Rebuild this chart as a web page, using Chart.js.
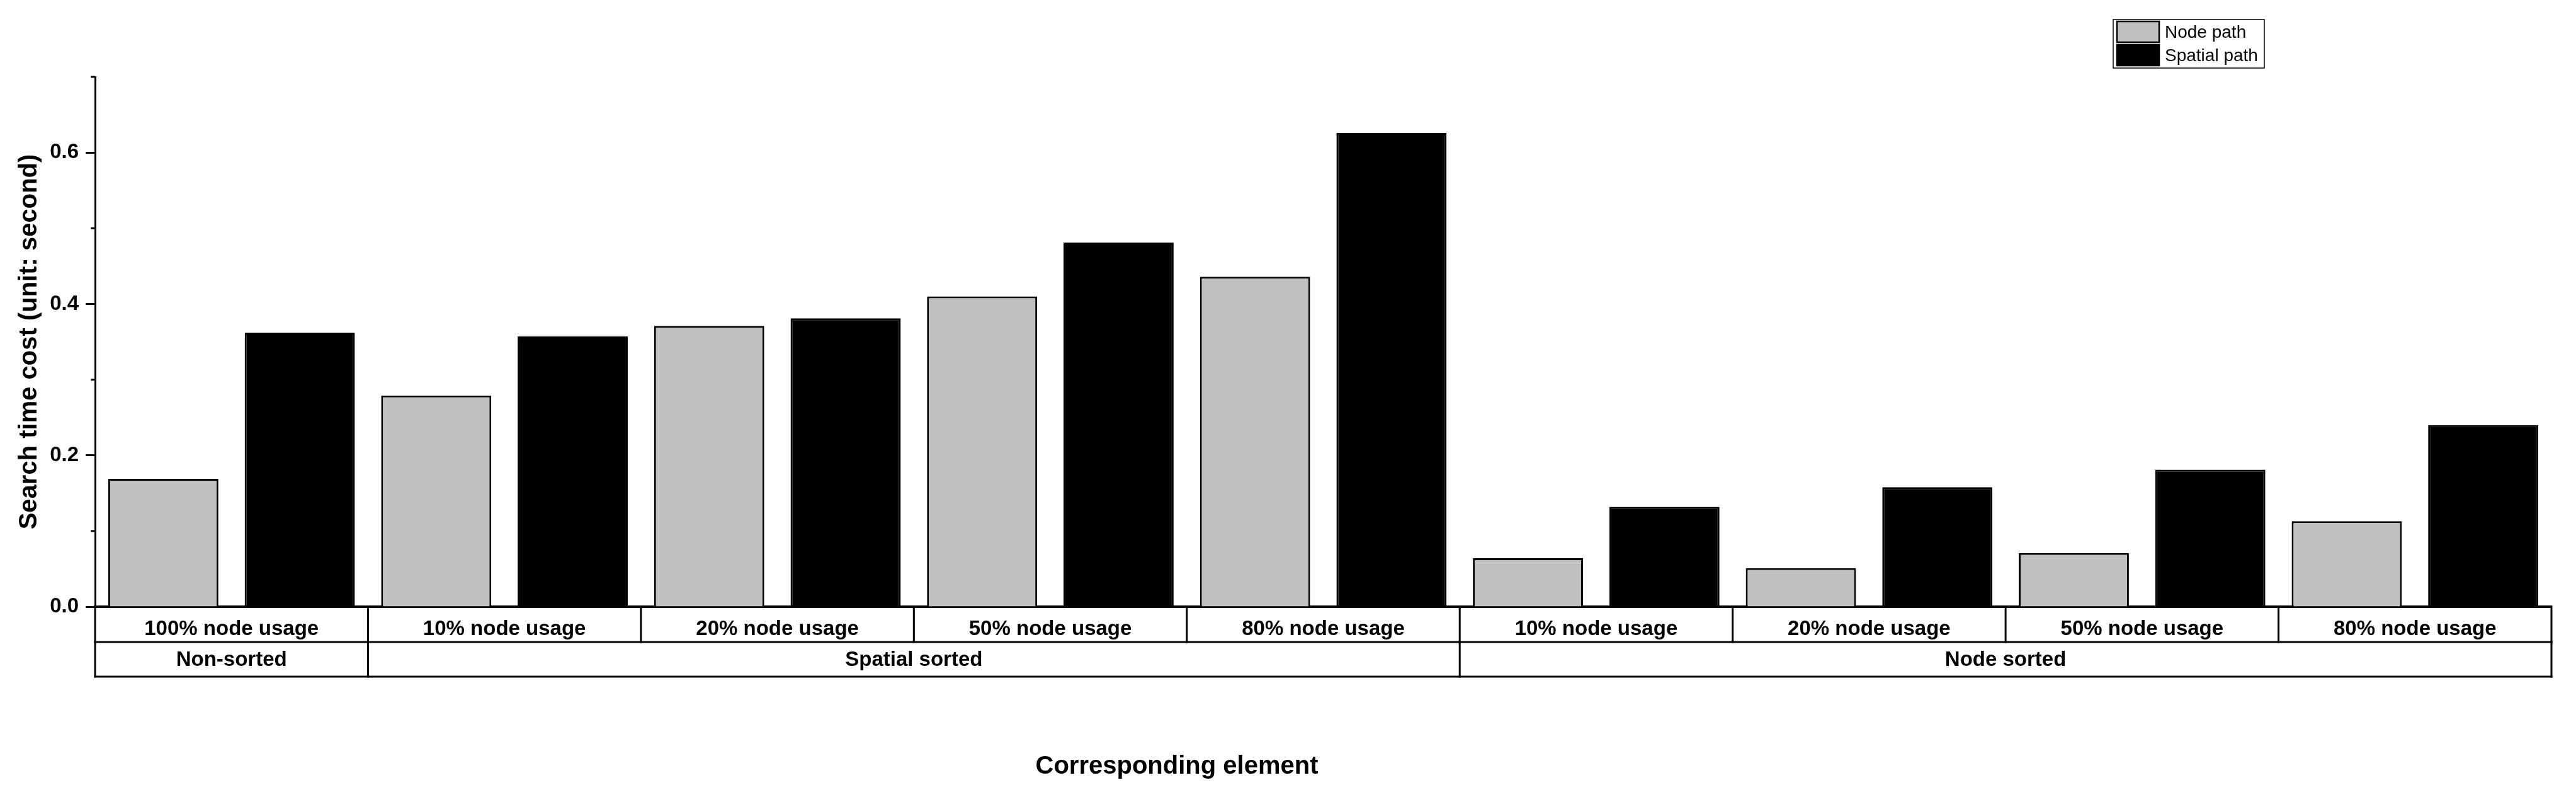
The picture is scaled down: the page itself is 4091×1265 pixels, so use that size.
<!DOCTYPE html>
<html>
<head>
<meta charset="utf-8">
<script src="https://cdn.jsdelivr.net/npm/chart.js@4.4.0/dist/chart.umd.min.js"></script>
<style>
  body { margin: 0; background: #fff; }
  #wrap { width: 4091px; height: 1265px; }
</style>
</head>
<body>
<div id="wrap"><canvas id="searchChart"></canvas></div>
<script>
// data
const categories = ["100% node usage", "10% node usage", "20% node usage", "50% node usage", "80% node usage",
                    "10% node usage", "20% node usage", "50% node usage", "80% node usage"];
const groupLabels = ["Non-sorted", "Spatial sorted", "Node sorted"];
const groupSizes = [1, 4, 4];
const nodePath = [0.169, 0.279, 0.371, 0.410, 0.436, 0.064, 0.051, 0.071, 0.113];
const spatialPath = [0.362, 0.357, 0.381, 0.481, 0.626, 0.132, 0.158, 0.181, 0.240];
const yTicks = [0, 0.1, 0.2, 0.3, 0.4, 0.5, 0.6, 0.7];

const FONT = "'Liberation Sans', Arial, sans-serif";

// two-row category table under the x axis + minor y ticks + legend + x title
const extrasPlugin = {
  id: "extras",
  afterDraw(chart) {
    const { ctx, scales: { x, y } } = chart;
    const n = categories.length;
    const top = x.top, mid = top + 56, bottom = top + 111;
    const edge = (i) => x.getPixelForValue(i - 0.5);

    ctx.save();
    ctx.strokeStyle = "#000";
    ctx.lineCap = "square";

    // horizontal rules
    ctx.lineWidth = 3;
    [mid, bottom].forEach((yy) => {
      ctx.beginPath();
      ctx.moveTo(edge(0), yy);
      ctx.lineTo(edge(n), yy);
      ctx.stroke();
    });

    // row 1 separators
    for (let i = 0; i <= n; i++) {
      ctx.beginPath();
      ctx.moveTo(edge(i), top);
      ctx.lineTo(edge(i), mid);
      ctx.stroke();
    }

    // row 2 separators and labels
    ctx.fillStyle = "#000";
    ctx.font = "bold 33px " + FONT;
    ctx.textAlign = "center";
    ctx.textBaseline = "middle";
    let start = 0;
    ctx.beginPath();
    ctx.moveTo(edge(0), mid);
    ctx.lineTo(edge(0), bottom);
    ctx.stroke();
    groupSizes.forEach((size, g) => {
      const end = start + size;
      ctx.beginPath();
      ctx.moveTo(edge(end), mid);
      ctx.lineTo(edge(end), bottom);
      ctx.stroke();
      ctx.fillText(groupLabels[g], (edge(start) + edge(end)) / 2, (mid + bottom) / 2 + 1);
      start = end;
    });

    // minor y ticks
    ctx.lineWidth = 3;
    ctx.lineCap = "butt";
    yTicks.forEach((v, i) => {
      if (i % 2 === 1) {
        const py = y.getPixelForValue(v);
        ctx.beginPath();
        ctx.moveTo(y.right - 7, py);
        ctx.lineTo(y.right, py);
        ctx.stroke();
      }
    });

    // x title (offset left of the plot centre, as in the figure)
    ctx.font = "bold 40px " + FONT;
    ctx.fillText("Corresponding element", 1869, 1217);

    // legend
    const lx = 3356, ly = 31;
    ctx.lineWidth = 1.5;
    ctx.strokeRect(lx, ly, 240, 77);
    ctx.font = "28px " + FONT;
    ctx.textAlign = "left";
    chart.data.datasets.forEach((ds, i) => {
      const sy = ly + 2 + i * 37;
      ctx.fillStyle = ds.backgroundColor;
      ctx.fillRect(lx + 5, sy, 69, 35);
      ctx.lineWidth = 2.5;
      ctx.strokeRect(lx + 6, sy + 1, 67, 33);
      ctx.fillStyle = "#000";
      ctx.fillText(ds.label, lx + 82, sy + 19);
    });
    ctx.restore();
  },
};

new Chart(document.getElementById("searchChart"), {
  type: "bar",
  data: {
    labels: categories,
    datasets: [
      {
        label: "Node path",
        data: nodePath,
        backgroundColor: "#c0c0c0",
        borderColor: "#000",
        borderWidth: 3,
      },
      {
        label: "Spatial path",
        data: spatialPath,
        backgroundColor: "#000",
        borderColor: "#000",
        borderWidth: 3,
      },
    ],
  },
  options: {
    responsive: true,
    maintainAspectRatio: false,
    animation: false,
    datasets: { bar: { categoryPercentage: 1.0, barPercentage: 0.807 } },
    layout: { padding: { top: 122, right: 39, left: 0, bottom: 0 } },
    plugins: { legend: { display: false }, tooltip: { enabled: false } },
    scales: {
      x: {
        grid: { display: false },
        border: { display: true, color: "#000", width: 4 },
        ticks: {
          color: "#000",
          font: { family: FONT, size: 33, weight: "bold" },
          padding: 8,
          maxRotation: 0,
          autoSkip: false,
        },
        afterFit(scale) { scale.height = 302; },
      },
      y: {
        min: 0,
        max: 0.7,
        grid: {
          drawOnChartArea: false,
          drawTicks: true,
          tickLength: 15,
          tickWidth: 3,
          tickColor: (c) => (Math.round(c.tick.value * 10) % 2 === 0 ? "#000" : "rgba(0,0,0,0)"),
        },
        border: { display: true, color: "#000", width: 3 },
        ticks: {
          stepSize: 0.1,
          color: "#000",
          padding: 11,
          font: { family: FONT, size: 33, weight: "bold" },
          callback: (v) => (Math.round(v * 10) % 2 === 0 ? v.toFixed(1) : ""),
        },
        title: {
          display: true,
          text: "Search time cost (unit: second)",
          color: "#000",
          font: { family: FONT, size: 40, weight: "bold" },
          padding: { top: 23, bottom: 0 },
        },
        afterFit(scale) { scale.width = 151; },
      },
    },
  },
  plugins: [extrasPlugin],
});
</script>
</body>
</html>
